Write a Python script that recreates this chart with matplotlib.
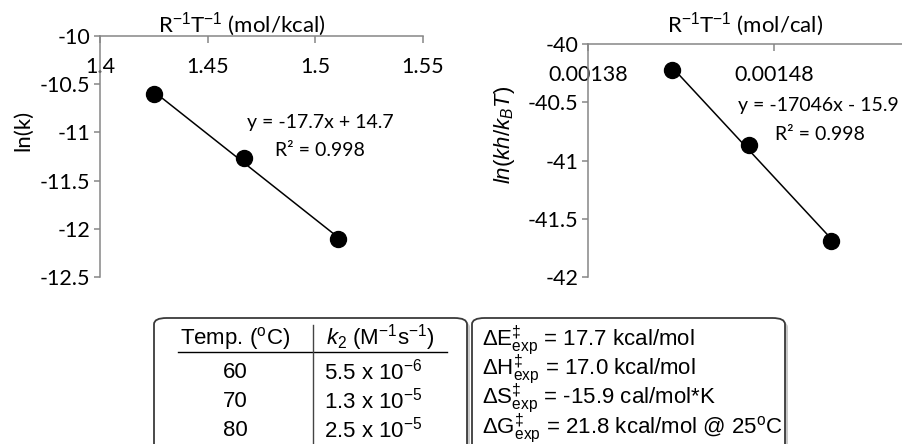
import matplotlib
matplotlib.use('Agg')
import matplotlib.pyplot as plt
from matplotlib.patches import FancyBboxPatch
from matplotlib.lines import Line2D
from matplotlib.ticker import FuncFormatter
import numpy as np

####################################################
# Data
####################################################
inv_rt_kcal = [1.4251, 1.4667, 1.5106]
ln_k = [-10.60, -11.27, -12.11]

inv_rt_cal = [0.0014251, 0.0014667, 0.0015106]
ln_eyring = [-40.22, -40.87, -41.69]

eq_left = ['y = -17.7x + 14.7', 'R² = 0.998']
eq_right = ['y = -17046x - 15.9', 'R² = 0.998']

temps = ['60', '70', '80']
k2_vals = [r'5.5 x 10$^{-6}$', r'1.3 x 10$^{-5}$', r'2.5 x 10$^{-5}$']
params = [r'$\Delta\mathrm{E}^{\ddagger}_{\mathrm{exp}}$ = 17.7 kcal/mol',
          r'$\Delta\mathrm{H}^{\ddagger}_{\mathrm{exp}}$ = 17.0 kcal/mol',
          r'$\Delta\mathrm{S}^{\ddagger}_{\mathrm{exp}}$ = -15.9 cal/mol*K',
          r'$\Delta\mathrm{G}^{\ddagger}_{\mathrm{exp}}$ = 21.8 kcal/mol @ 25$^{\mathrm{o}}$C']

####################################################
# Style
####################################################
plt.rcParams['font.family'] = ['Lato', 'DejaVu Sans']
plt.rcParams['axes.unicode_minus'] = False
plt.rcParams['mathtext.fontset'] = 'custom'
plt.rcParams['mathtext.rm'] = 'Liberation Sans'
plt.rcParams['mathtext.it'] = 'Liberation Sans:italic'
plt.rcParams['mathtext.bf'] = 'Liberation Sans:bold'

W, H = 903, 444
axis_gray = '#868686'
tick_fs = 15.5
label_fs = 16
eq_fs = 14
table_font = 'Liberation Sans'
table_fs = 16


def px(x, y):
    return x / W, 1 - y / H


fig = plt.figure(figsize=(W / 100, H / 100), dpi=100)


def setup_axes(ax, ytop, ybot, xticks, yticks):
    ax.set_ylim(ybot, ytop)
    ax.set_xticks(xticks)
    ax.set_yticks(yticks)
    for s in ['top', 'right']:
        ax.spines[s].set_visible(False)
    ax.spines['bottom'].set_position(('data', ytop))
    for s in ['bottom', 'left']:
        ax.spines[s].set_color(axis_gray)
        ax.spines[s].set_linewidth(1.1)
    ax.tick_params(axis='x', direction='out', length=5, width=1.1,
                   color=axis_gray, pad=10, labelsize=tick_fs)
    ax.tick_params(axis='y', direction='out', length=4, width=1.1,
                   color=axis_gray, pad=3, labelsize=tick_fs)
    ax.xaxis.set_major_formatter(FuncFormatter(lambda v, p: '%g' % v))
    ax.yaxis.set_major_formatter(FuncFormatter(lambda v, p: '%g' % v))
    ax.patch.set_visible(False)


def plot_fit(ax, x, y):
    x = np.array(x)
    y = np.array(y)
    m, b = np.polyfit(x, y, 1)
    xs = np.array([x.min(), x.max()])
    ax.plot(xs, m * xs + b, color='black', lw=1.1, zorder=2)
    ax.plot(x, y, linestyle='none', marker='o', markersize=11.5,
            color='black', zorder=3, clip_on=False)


####################################################
# Left plot: ln(k) vs 1/RT
####################################################
ax1 = fig.add_axes([100 / W, 1 - 277 / H, 323 / W, 241 / H])
setup_axes(ax1, -10, -12.5, [1.4, 1.45, 1.5, 1.55], np.arange(-12.5, -9.99, 0.5))
ax1.set_xlim(1.4, 1.55)
plot_fit(ax1, inv_rt_kcal, ln_k)
fig.text(*px(242, 25), r'R$^{-1}$T$^{-1}$ (mol/kcal)', ha='center', va='center', fontsize=label_fs)
fig.text(*px(23, 130), 'ln(k)', ha='center', va='center', rotation=90, fontsize=label_fs)
fig.text(*px(320, 122), eq_left[0], ha='center', va='center', fontsize=eq_fs)
fig.text(*px(320, 150), eq_left[1], ha='center', va='center', fontsize=eq_fs)

####################################################
# Right plot: ln(kh/kBT) vs 1/RT
####################################################
ax2 = fig.add_axes([588 / W, 1 - 277 / H, 372 / W, 233 / H])
setup_axes(ax2, -40, -42, [0.00138, 0.00148], np.arange(-42, -39.99, 0.5))
ax2.set_xlim(0.00138, 0.00158)
plot_fit(ax2, inv_rt_cal, ln_eyring)
fig.text(*px(745, 25), r'R$^{-1}$T$^{-1}$ (mol/cal)', ha='center', va='center', fontsize=label_fs)
fig.text(*px(505, 135), r'$ln(kh/k_BT)$', ha='center', va='center', rotation=90, fontsize=label_fs)
fig.text(*px(818, 106), eq_right[0], ha='center', va='center', fontsize=eq_fs)
fig.text(*px(820, 134), eq_right[1], ha='center', va='center', fontsize=eq_fs)

####################################################
# Table boxes
####################################################
box_col = '#3a3a3a'
for x0, x1 in [(154, 467), (472, 785)]:
    (fx0, fy0) = px(x0, 470)
    (fx1, fy1) = px(x1, 318)
    shadow = FancyBboxPatch((fx0 + 3 / W, fy0 - 3 / H), fx1 - fx0, fy1 - fy0,
                            boxstyle='round,pad=0,rounding_size=0.014',
                            transform=fig.transFigure, facecolor='#c8c8c8',
                            edgecolor='none', zorder=1)
    fig.patches.append(shadow)
    box = FancyBboxPatch((fx0, fy0), fx1 - fx0, fy1 - fy0,
                         boxstyle='round,pad=0,rounding_size=0.014',
                         transform=fig.transFigure, facecolor='white',
                         edgecolor=box_col, linewidth=1.3, zorder=1)
    fig.patches.append(box)

# header underline and column divider
fig.add_artist(Line2D([178 / W, 447 / W], [1 - 352 / H] * 2, color='black', lw=1.0))
fig.add_artist(Line2D([313 / W] * 2, [1 - 325 / H, 0], color='#444444', lw=1.0))

fig.text(*px(235, 338), r'Temp. ($^{\mathrm{o}}$C)', ha='center', va='center',
         family=table_font, fontsize=table_fs)
fig.text(*px(380, 338), r'$k_2$ (M$^{-1}$s$^{-1}$)', ha='center', va='center',
         family=table_font, fontsize=table_fs)

row_y = [372, 401, 430]
for t, k, yy in zip(temps, k2_vals, row_y):
    fig.text(*px(235, yy), t, ha='center', va='center', family=table_font, fontsize=table_fs)
    fig.text(*px(373, yy), k, ha='center', va='center', family=table_font, fontsize=table_fs)

param_y = [340, 369, 398, 428]
for p, yy in zip(params, param_y):
    fig.text(*px(482, yy), p, ha='left', va='center', family=table_font, fontsize=table_fs)

fig.savefig('out.png', dpi=100)
